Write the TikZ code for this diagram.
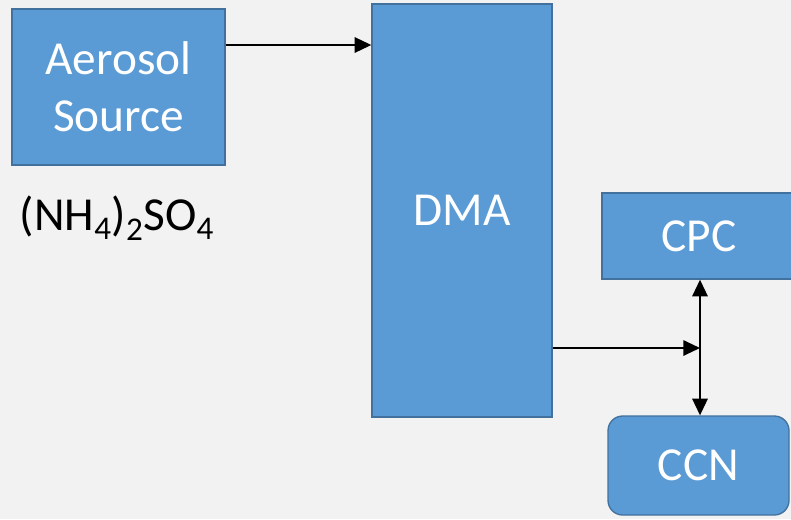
\documentclass[tikz,border=0pt]{standalone}
\usepackage{fontspec}
\setmainfont{Carlito}
\usetikzlibrary{arrows.meta}
\definecolor{boxfill}{HTML}{5B9BD5}
\definecolor{boxline}{HTML}{41719C}
\definecolor{backfill}{HTML}{F2F2F2}
\begin{document}
    \begin{tikzpicture}[x = 0.75pt, y = -0.75pt,
            block/.style = {draw = boxline, fill = boxfill, line width = 1pt, text = white,
                align = center, inner sep = 0pt, font = \fontsize{35.5}{43}\selectfont},
            flow/.style = {line width = 1.5pt, -{Triangle[length = 12.5pt, width = 11.5pt]}},
            both/.style = {line width = 1.5pt, {Triangle[length = 12.5pt, width = 11.5pt]}-{Triangle[length = 12.5pt, width = 11.5pt]}}]
        \path[use as bounding box, fill = backfill] (0,0) rectangle (791,519);
        \clip (0,0) rectangle (791,519);
        \begin{scope}[every node/.append style = {block}]
            \node[minimum width = 159.75pt, minimum height = 117pt] (aero) at (118.5,87) {Aerosol\\Source};
            \node[minimum width = 135pt, minimum height = 309.75pt] (dma) at (462,210.5) {DMA};
            \node[minimum width = 145.5pt, minimum height = 64.5pt] (cpc) at (699,236) {CPC};
            \node[minimum width = 135.75pt, minimum height = 74.25pt, rounded corners = 11pt] (ccn) at (698.5,465.5) {CCN};
        \end{scope}
        \node[anchor = base, font = \fontsize{35.5}{43}\selectfont] (salt) at (117,230)
            {(NH\textsubscript{4})\textsubscript{2}SO\textsubscript{4}};
        \coordinate (junc) at (700,348);
        \draw[flow] (aero.east |- 0,45) -- (dma.west |- 0,45);
        \draw[flow] (dma.east |- junc) -- (junc);
        \draw[both] (cpc.south -| junc) -- (ccn.north -| junc);
    \end{tikzpicture}
\end{document}
